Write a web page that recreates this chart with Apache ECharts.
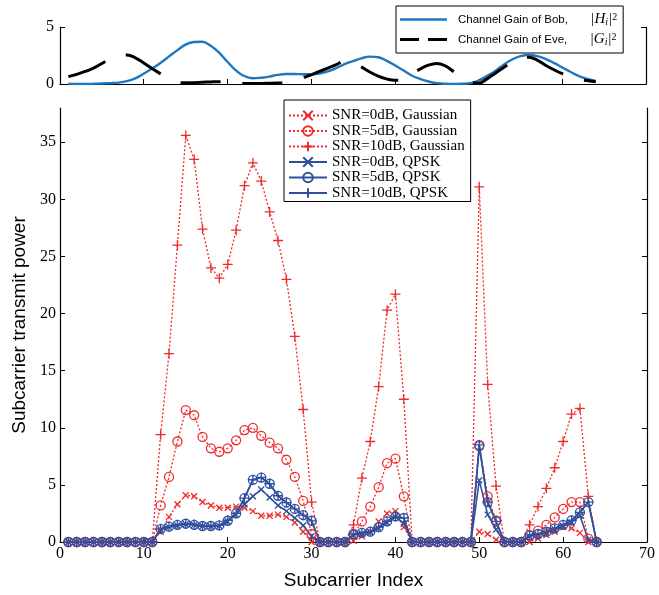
<!DOCTYPE html>
<html><head><meta charset="utf-8">
<script src="https://cdn.jsdelivr.net/npm/echarts@6/dist/echarts.min.js"></script>
<style>html,body{margin:0;padding:0;background:#fff}#c{width:659px;height:595px}</style>
</head><body><div id="c"></div><script>
const subcarriers = [1,2,3,4,5,6,7,8,9,10,11,12,13,14,15,16,17,18,19,20,21,22,23,24,25,26,27,28,29,30,31,32,
  33,34,35,36,37,38,39,40,41,42,43,44,45,46,47,48,49,50,51,52,53,54,55,56,57,58,59,60,61,62,63,64];
const gainBob = [0.02,0.0,0.0,0.02,0.05,0.08,0.12,0.25,0.5,0.9,1.35,1.85,2.4,2.95,3.45,3.68,3.7,3.35,2.75,1.95,
  1.2,0.7,0.5,0.55,0.65,0.8,0.88,0.88,0.86,0.86,0.92,1.1,1.4,1.75,2.0,2.25,2.4,2.35,2.05,1.65,1.2,0.75,0.45,
  0.22,0.08,0.02,0.0,0.02,0.08,0.3,0.7,1.15,1.7,2.15,2.45,2.55,2.45,2.2,1.85,1.45,1.05,0.7,0.45,0.27];
const gainEve = [0.65,0.85,1.1,1.4,1.8,2.2,2.5,2.55,2.3,1.85,1.35,0.9,0.45,0.15,0.1,0.12,0.15,0.18,0.2,0.15,
  0.08,0.05,0.05,0.05,0.06,0.08,0.12,0.3,0.55,0.8,1.1,1.4,1.7,2.0,1.9,1.5,1.05,0.7,0.45,0.32,0.38,0.85,1.3,
  1.65,1.8,1.6,1.1,0.55,0.2,0.06,0.45,0.95,1.45,1.95,2.3,2.35,2.1,1.65,1.25,0.9,0.6,0.4,0.3,0.2];
const gauss0 = [0,0,0,0,0,0,0,0,0,0,0,
  0.9,2.2,3.3,4.1,4.0,3.5,3.2,3.0,3.0,3.1,3.0,2.7,2.3,2.3,2.4,2.2,1.7,0.9,0.0,
  0,0,0,0,
  0.1,0.5,0.9,1.8,2.5,2.7,1.3,
  0,0,0,0,0,0,0,0,
  0.9,0.7,0.2,
  0,0,0,
  0.0,0.3,0.6,0.9,1.3,1.2,0.8,0.0,
  0];
const gauss5 = [0,0,0,0,0,0,0,0,0,0,0,
  3.2,5.7,8.8,11.55,11.1,9.2,8.2,7.9,8.2,8.9,9.8,10.0,9.3,8.7,8.2,7.2,5.7,3.6,0.7,
  0,0,0,0,
  0.6,1.8,3.1,4.8,6.9,7.3,4.0,
  0,0,0,0,0,0,0,0,
  8.5,4.0,1.9,
  0,0,0,
  0.55,1.0,1.5,2.15,2.9,3.5,3.5,0.3,
  0];
const gauss10 = [0,0,0,0,0,0,0,0,0,0,0,
  9.4,16.5,26.0,35.6,33.5,27.4,24.0,23.1,24.3,27.3,31.2,33.2,31.6,28.9,26.4,23.0,18.0,11.6,3.5,
  0,0,0,0,
  1.5,5.6,8.8,13.6,20.3,21.7,12.5,
  0,0,0,0,0,0,0,0,
  31.1,13.8,4.9,
  0,0,0,
  1.5,3.1,4.7,6.5,8.8,11.2,11.7,4.0,
  0];
const qpsk0 = [0,0,0,0,0,0,0,0,0,0,0,
  1.1,1.3,1.45,1.55,1.5,1.4,1.35,1.4,1.8,2.4,3.3,4.0,4.6,3.9,3.2,2.7,2.1,1.45,0.5,
  0,0,0,0,
  0.6,0.75,0.85,1.2,1.7,2.2,1.6,
  0,0,0,0,0,0,0,0,
  5.4,2.4,1.1,
  0,0,0,
  0.5,0.6,0.8,1.1,1.4,1.7,2.3,0.2,
  0];
const qpsk5 = [0,0,0,0,0,0,0,0,0,0,0,
  1.13,1.34,1.5,1.6,1.5,1.4,1.4,1.45,1.86,2.5,3.84,5.44,5.64,5.1,4.04,3.46,2.9,2.36,1.86,
  0,0,0,0,
  0.7,0.8,0.9,1.3,1.8,2.25,2.1,
  0,0,0,0,0,0,0,0,
  8.4,3.5,1.8,
  0,0,0,
  0.6,0.7,0.9,1.2,1.5,1.9,2.6,3.5,
  0];
const qpsk10 = [0,0,0,0,0,0,0,0,0,0,0,
  1.15,1.35,1.5,1.6,1.55,1.4,1.4,1.45,1.9,2.5,3.85,5.45,5.65,5.1,4.05,3.45,2.9,2.35,1.85,
  0,0,0,0,
  0.7,0.8,0.9,1.3,1.8,2.25,2.1,
  0,0,0,0,0,0,0,0,
  8.5,3.5,1.8,
  0,0,0,
  0.6,0.7,0.9,1.2,1.5,1.9,2.6,3.5,
  0];
const xTicks = [0,10,20,30,40,50,60,70];
const yTicksMain = [0,5,10,15,20,25,30,35];
const yTicksTop = [0,5];

const pair = arr => subcarriers.map((x,i)=>[x, arr[i]]);
const RED = '#f02a2a', BLUE = '#2f4f9f';
const SYM_X = 'path://M0,0L10,10M10,0L0,10';
const SYM_P = 'path://M5,0L5,10M0,5L10,5';
const BOB_ICON = 'path://M0,0h0.01v0.01h-0.01zM46.99,11.99h0.01v0.01h-0.01zM0,4.8h47v2.4h-47z';
const EVE_ICON = 'path://M0,0h0.01v0.01h-0.01zM46.99,11.99h0.01v0.01h-0.01zM0,4.6h19v2.8h-19zM28,4.6h19v2.8h-19z';

function mainSeries(name, data, color, sym, size, dotted){
  return {
    name: name, type:'line', xAxisIndex:1, yAxisIndex:2, data: pair(data),
    symbol: sym, symbolSize: size, showAllSymbol:true,
    lineStyle:{color: color, width: dotted?1.3:1.6, type: dotted?[2,2]:'solid'},
    itemStyle:{color:'rgba(0,0,0,0)', borderColor:color, borderWidth:1.3},
    animation:false
  };
}
const serif = 'Liberation Serif';
const tickStyle = {inside:true, length:5, lineStyle:{color:'#000'}};
const option = {
  backgroundColor:'#fff',
  animation:false,
  grid:[
    {left:60, right:13, top:27, height:57},
    {left:60, right:12, top:108, height:435}
  ],
  xAxis:[
    {gridIndex:0, type:'value', min:0, max:70, interval:10,
     axisLine:{lineStyle:{color:'#000', width:1.2}}, axisTick:Object.assign({customValues:xTicks}, tickStyle),
     axisLabel:{show:false}, splitLine:{show:false}},
    {gridIndex:1, type:'value', min:0, max:70, interval:10,
     axisLine:{lineStyle:{color:'#000', width:1.2}}, axisTick:Object.assign({customValues:xTicks}, tickStyle),
     axisLabel:{fontFamily:serif, fontSize:16, color:'#000', margin:4, customValues:xTicks},
     splitLine:{show:false},
     name:'Subcarrier Index', nameLocation:'middle', nameGap:29,
     nameTextStyle:{fontFamily:'Liberation Sans', fontSize:19, color:'#000'}}
  ],
  yAxis:[
    {gridIndex:0, type:'value', min:0, max:5, interval:5, position:'left',
     axisLine:{show:true, lineStyle:{color:'#000', width:1.2}},
     axisTick:Object.assign({customValues:yTicksTop}, tickStyle),
     axisLabel:{fontFamily:serif, fontSize:16, color:'#000', margin:6, customValues:yTicksTop}, splitLine:{show:false}},
    {gridIndex:0, type:'value', min:0, max:5, interval:5, position:'right',
     axisLine:{show:true, lineStyle:{color:'#000', width:1.2}},
     axisTick:Object.assign({customValues:yTicksTop}, tickStyle),
     axisLabel:{show:false}, splitLine:{show:false}},
    {gridIndex:1, type:'value', min:0, max:38, interval:5, position:'left',
     axisLine:{show:true, lineStyle:{color:'#000', width:1.2}},
     axisTick:Object.assign({customValues:yTicksMain}, tickStyle),
     axisLabel:{fontFamily:serif, fontSize:16, color:'#000', margin:4, customValues:yTicksMain},
     splitLine:{show:false},
     name:'Subcarrier transmit power', nameLocation:'middle', nameGap:31, nameRotate:90,
     nameTextStyle:{fontFamily:'Liberation Sans', fontSize:19, color:'#000'}},
    {gridIndex:1, type:'value', min:0, max:38, interval:5, position:'right',
     axisLine:{show:true, lineStyle:{color:'#000', width:1.2}},
     axisTick:Object.assign({customValues:yTicksMain}, tickStyle),
     axisLabel:{show:false}, splitLine:{show:false}}
  ],
  legend:[
    {orient:'vertical', left:396, top:6, padding:[6,6,6,4], itemGap:5,
     backgroundColor:'#fff', borderColor:'#000', borderWidth:1,
     itemWidth:47, itemHeight:12,
     data:[{name:'Channel Gain of Bob', icon:BOB_ICON},{name:'Channel Gain of Eve', icon:EVE_ICON}],
     formatter: function(n){ return n==='Channel Gain of Bob'
        ? 'Channel Gain of Bob,       {m||H}{s|i}{m||}{p|2}'
        : 'Channel Gain of Eve,       {m||G}{s|i}{m||}{p|2}'; },
     textStyle:{fontFamily:'Liberation Sans', fontSize:11.5, color:'#000', padding:[0,0,0,6],
       rich:{m:{fontFamily:serif, fontStyle:'italic', fontSize:15, color:'#000'},
             s:{fontFamily:serif, fontStyle:'italic', fontSize:10, verticalAlign:'bottom', color:'#000'},
             p:{fontFamily:serif, fontSize:10, verticalAlign:'top', color:'#000'}}}},
    {orient:'vertical', left:284, top:100, padding:[8,6,1,4], itemGap:0.5,
     backgroundColor:'#fff', borderColor:'#000', borderWidth:1,
     itemWidth:38, itemHeight:12,
     data:['SNR=0dB, Gaussian','SNR=5dB, Gaussian','SNR=10dB, Gaussian','SNR=0dB, QPSK','SNR=5dB, QPSK','SNR=10dB, QPSK'],
     textStyle:{fontFamily:serif, fontSize:15, color:'#000'}}
  ],
  series:[
    {name:'Channel Gain of Bob', type:'line', xAxisIndex:0, yAxisIndex:0, data:pair(gainBob),
     symbol:'none', smooth:0.4, lineStyle:{color:'#1f77c0', width:2.4}, itemStyle:{color:'#1f77c0'}, animation:false},
    {name:'Channel Gain of Eve', type:'line', xAxisIndex:0, yAxisIndex:0, data:pair(gainEve),
     symbol:'none', smooth:0.4, lineStyle:{color:'#000', width:3, type:[40,22]}, itemStyle:{color:'#000'}, animation:false},
    mainSeries('SNR=0dB, Gaussian', gauss0, RED, SYM_X, 6, true),
    mainSeries('SNR=5dB, Gaussian', gauss5, RED, 'circle', 9, true),
    mainSeries('SNR=10dB, Gaussian', gauss10, RED, SYM_P, 10, true),
    mainSeries('SNR=0dB, QPSK', qpsk0, BLUE, SYM_X, 6, false),
    mainSeries('SNR=5dB, QPSK', qpsk5, BLUE, 'circle', 9, false),
    mainSeries('SNR=10dB, QPSK', qpsk10, BLUE, SYM_P, 10, false)
  ]
};
const chart = echarts.init(document.getElementById('c'), null, {renderer:'canvas'});
chart.setOption(option);
</script></body></html>
